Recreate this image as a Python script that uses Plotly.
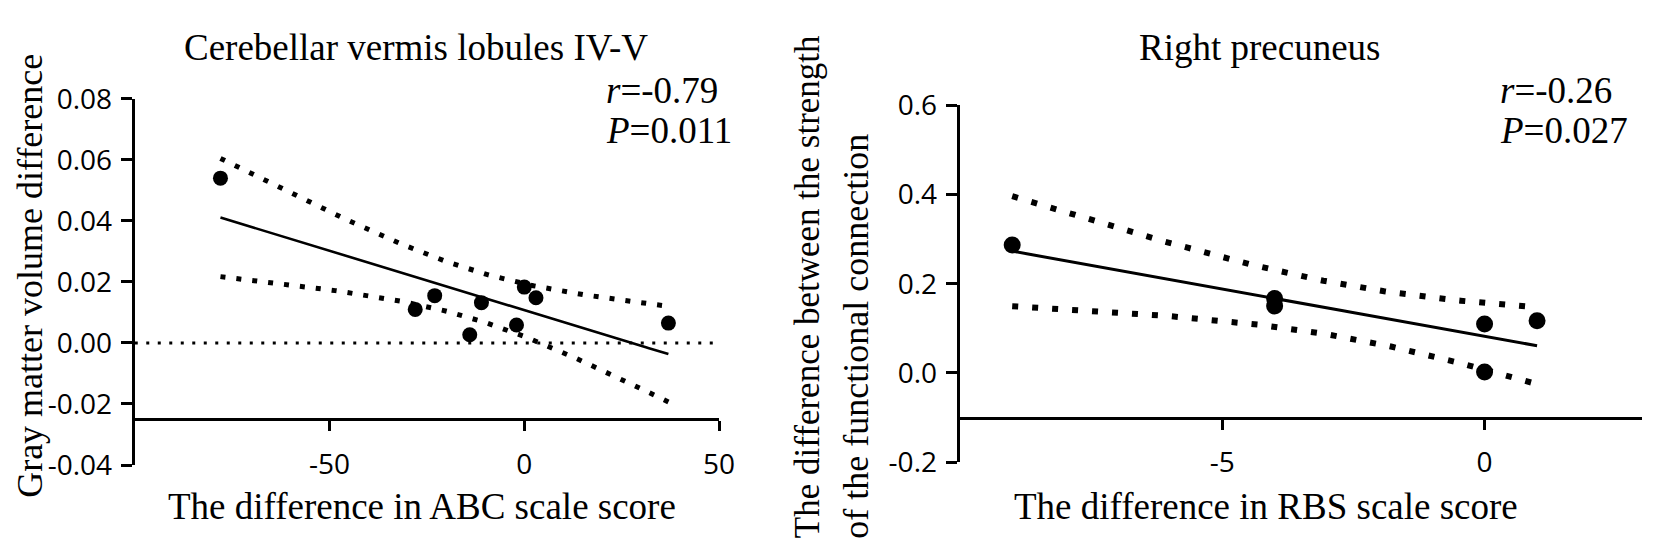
import numpy as np
import plotly.graph_objects as go

# ---------------- data ----------------
abc_diff = [-78, -28, -23, -14, -11, -2, 0, 3, 37]
gmv_diff = [0.054, 0.011, 0.0155, 0.0027, 0.0132, 0.0059, 0.0183, 0.0148, 0.0065]

rbs_diff = [-9, -4, -4, 0, 1, 0]
fc_diff = [0.287, 0.167, 0.150, 0.110, 0.117, 0.002]

left_title = "Cerebellar vermis lobules IV-V"
right_title = "Right precuneus"
left_xtitle = "The difference in ABC scale score"
right_xtitle = "The difference in RBS scale score"
left_ytitle = "Gray matter volume difference"
right_ytitle = ["The difference between the strength", "of the functional connection"]
left_stats = ["<i>r</i>=-0.79", "<i>P</i>=0.011"]
right_stats = ["<i>r</i>=-0.26", "<i>P</i>=0.027"]

left_xticks = [-50, 0, 50]
left_xticktext = ["-50", "0", "50"]
left_yticks = [-0.04, -0.02, 0.00, 0.02, 0.04, 0.06, 0.08]
left_yticktext = ["-0.04", "-0.02", "0.00", "0.02", "0.04", "0.06", "0.08"]
right_xticks = [-5, 0]
right_xticktext = ["-5", "0"]
right_yticks = [-0.2, 0.0, 0.2, 0.4, 0.6]
right_yticktext = ["-0.2", "0.0", "0.2", "0.4", "0.6"]

T_CRIT = {4: 2.776, 7: 2.365}  # two-sided 95% t critical values


def fit_with_ci(x, y, npts=200):
    x = np.asarray(x, float)
    y = np.asarray(y, float)
    n = len(x)
    b, a = np.polyfit(x, y, 1)
    xs = np.linspace(x.min(), x.max(), npts)
    yhat = a + b * xs
    resid = y - (a + b * x)
    s = np.sqrt(np.sum(resid ** 2) / (n - 2))
    sxx = np.sum((x - x.mean()) ** 2)
    half = T_CRIT[n - 2] * s * np.sqrt(1.0 / n + (xs - x.mean()) ** 2 / sxx)
    return xs, yhat, yhat - half, yhat + half


W, H = 1654, 557
SERIF = "Liberation Serif"
SANS = "Open Sans"


def px(xp):
    return xp / W


def py(yp):
    return 1 - yp / H


fig = go.Figure()

# left panel
xs, yh, lo, hi = fit_with_ci(abc_diff, gmv_diff)
for band in (lo, hi):
    fig.add_trace(go.Scatter(x=xs, y=band, mode="lines", xaxis="x", yaxis="y",
                             line=dict(color="black", width=5, dash="5px,11px"),
                             hoverinfo="skip"))
fig.add_trace(go.Scatter(x=xs, y=yh, mode="lines", xaxis="x", yaxis="y",
                         line=dict(color="black", width=2.6)))
fig.add_trace(go.Scatter(x=abc_diff, y=gmv_diff, mode="markers", xaxis="x", yaxis="y",
                         marker=dict(color="black", size=15)))

# right panel
xs2, yh2, lo2, hi2 = fit_with_ci(rbs_diff, fc_diff)
for band in (lo2, hi2):
    fig.add_trace(go.Scatter(x=xs2, y=band, mode="lines", xaxis="x2", yaxis="y2",
                             line=dict(color="black", width=6, dash="6px,14px"),
                             hoverinfo="skip"))
fig.add_trace(go.Scatter(x=xs2, y=yh2, mode="lines", xaxis="x2", yaxis="y2",
                         line=dict(color="black", width=3)))
fig.add_trace(go.Scatter(x=rbs_diff, y=fc_diff, mode="markers", xaxis="x2", yaxis="y2",
                         marker=dict(color="black", size=17)))

# zero reference line (left)
fig.add_shape(type="line", xref="x domain", yref="y", x0=0, x1=1, y0=0, y1=0,
              line=dict(color="black", width=3, dash="3px,8.5px"))

# geometry
L_dom = [px(128), px(718)]
L_ydom = [py(469), py(76)]
R_dom = [px(961), px(1650)]
R_ydom = [py(466), py(83)]
L_xpos = L_ydom[0] + (L_ydom[1] - L_ydom[0]) * (0.015 / 0.12)
R_xpos = R_ydom[0] + (R_ydom[1] - R_ydom[0]) * (0.1 / 0.8)

tickfont = dict(family=SANS, size=28, color="black")
axis_common = dict(showgrid=False, zeroline=False, showline=True, linecolor="black",
                   linewidth=3.2, ticks="outside", tickwidth=3.2, tickcolor="black",
                   tickfont=tickfont)

fig.update_layout(
    width=W, height=H, margin=dict(l=0, r=0, t=0, b=0),
    paper_bgcolor="white", plot_bgcolor="white", showlegend=False,
    xaxis=dict(domain=L_dom, range=[-100, 50], anchor="free", position=L_xpos,
               tickvals=left_xticks, ticktext=left_xticktext, ticklen=10,
               ticklabelstandoff=9, **axis_common),
    yaxis=dict(domain=L_ydom, range=[-0.04, 0.08], anchor="x", ticklen=11,
               ticklabelstandoff=3, tickvals=left_yticks, ticktext=left_yticktext,
               **axis_common),
    xaxis2=dict(domain=R_dom, range=[-10, 3], anchor="free", position=R_xpos,
                tickvals=right_xticks, ticktext=right_xticktext, ticklen=10,
                ticklabelstandoff=9, **axis_common),
    yaxis2=dict(domain=R_ydom, range=[-0.2, 0.6], anchor="x2", ticklen=11,
                ticklabelstandoff=3, tickvals=right_yticks, ticktext=right_yticktext,
                **axis_common),
)

serif = dict(family=SERIF, size=37, color="black")


def note(text, x, y, font=serif, xanchor="center", yanchor="middle", angle=0):
    return dict(text=text, x=px(x), y=py(y), xref="paper", yref="paper",
                showarrow=False, font=font, xanchor=xanchor, yanchor=yanchor,
                textangle=angle)


ann = [
    note(left_title, 412, 21),
    note(right_title, 1264, 21),
    note(left_xtitle, 418, 513),
    note(right_xtitle, 1270, 513),
    note(left_ytitle, 0, 266, font=dict(family=SERIF, size=36, color="black"),
         xanchor="left", angle=-90),
    note(right_ytitle[0], 808, 550, font=dict(family=SERIF, size=35, color="black"),
         yanchor="bottom", angle=-90),
    note(right_ytitle[1], 856, 550, font=dict(family=SERIF, size=36, color="black"),
         yanchor="bottom", angle=-90),
]
for i, t in enumerate(left_stats):
    ann.append(note(t, 602, 67 + 43 * i, xanchor="left"))
for i, t in enumerate(right_stats):
    ann.append(note(t, 1505, 67 + 43 * i, xanchor="left"))
fig.update_layout(annotations=ann)

fig.write_html("out.html")
